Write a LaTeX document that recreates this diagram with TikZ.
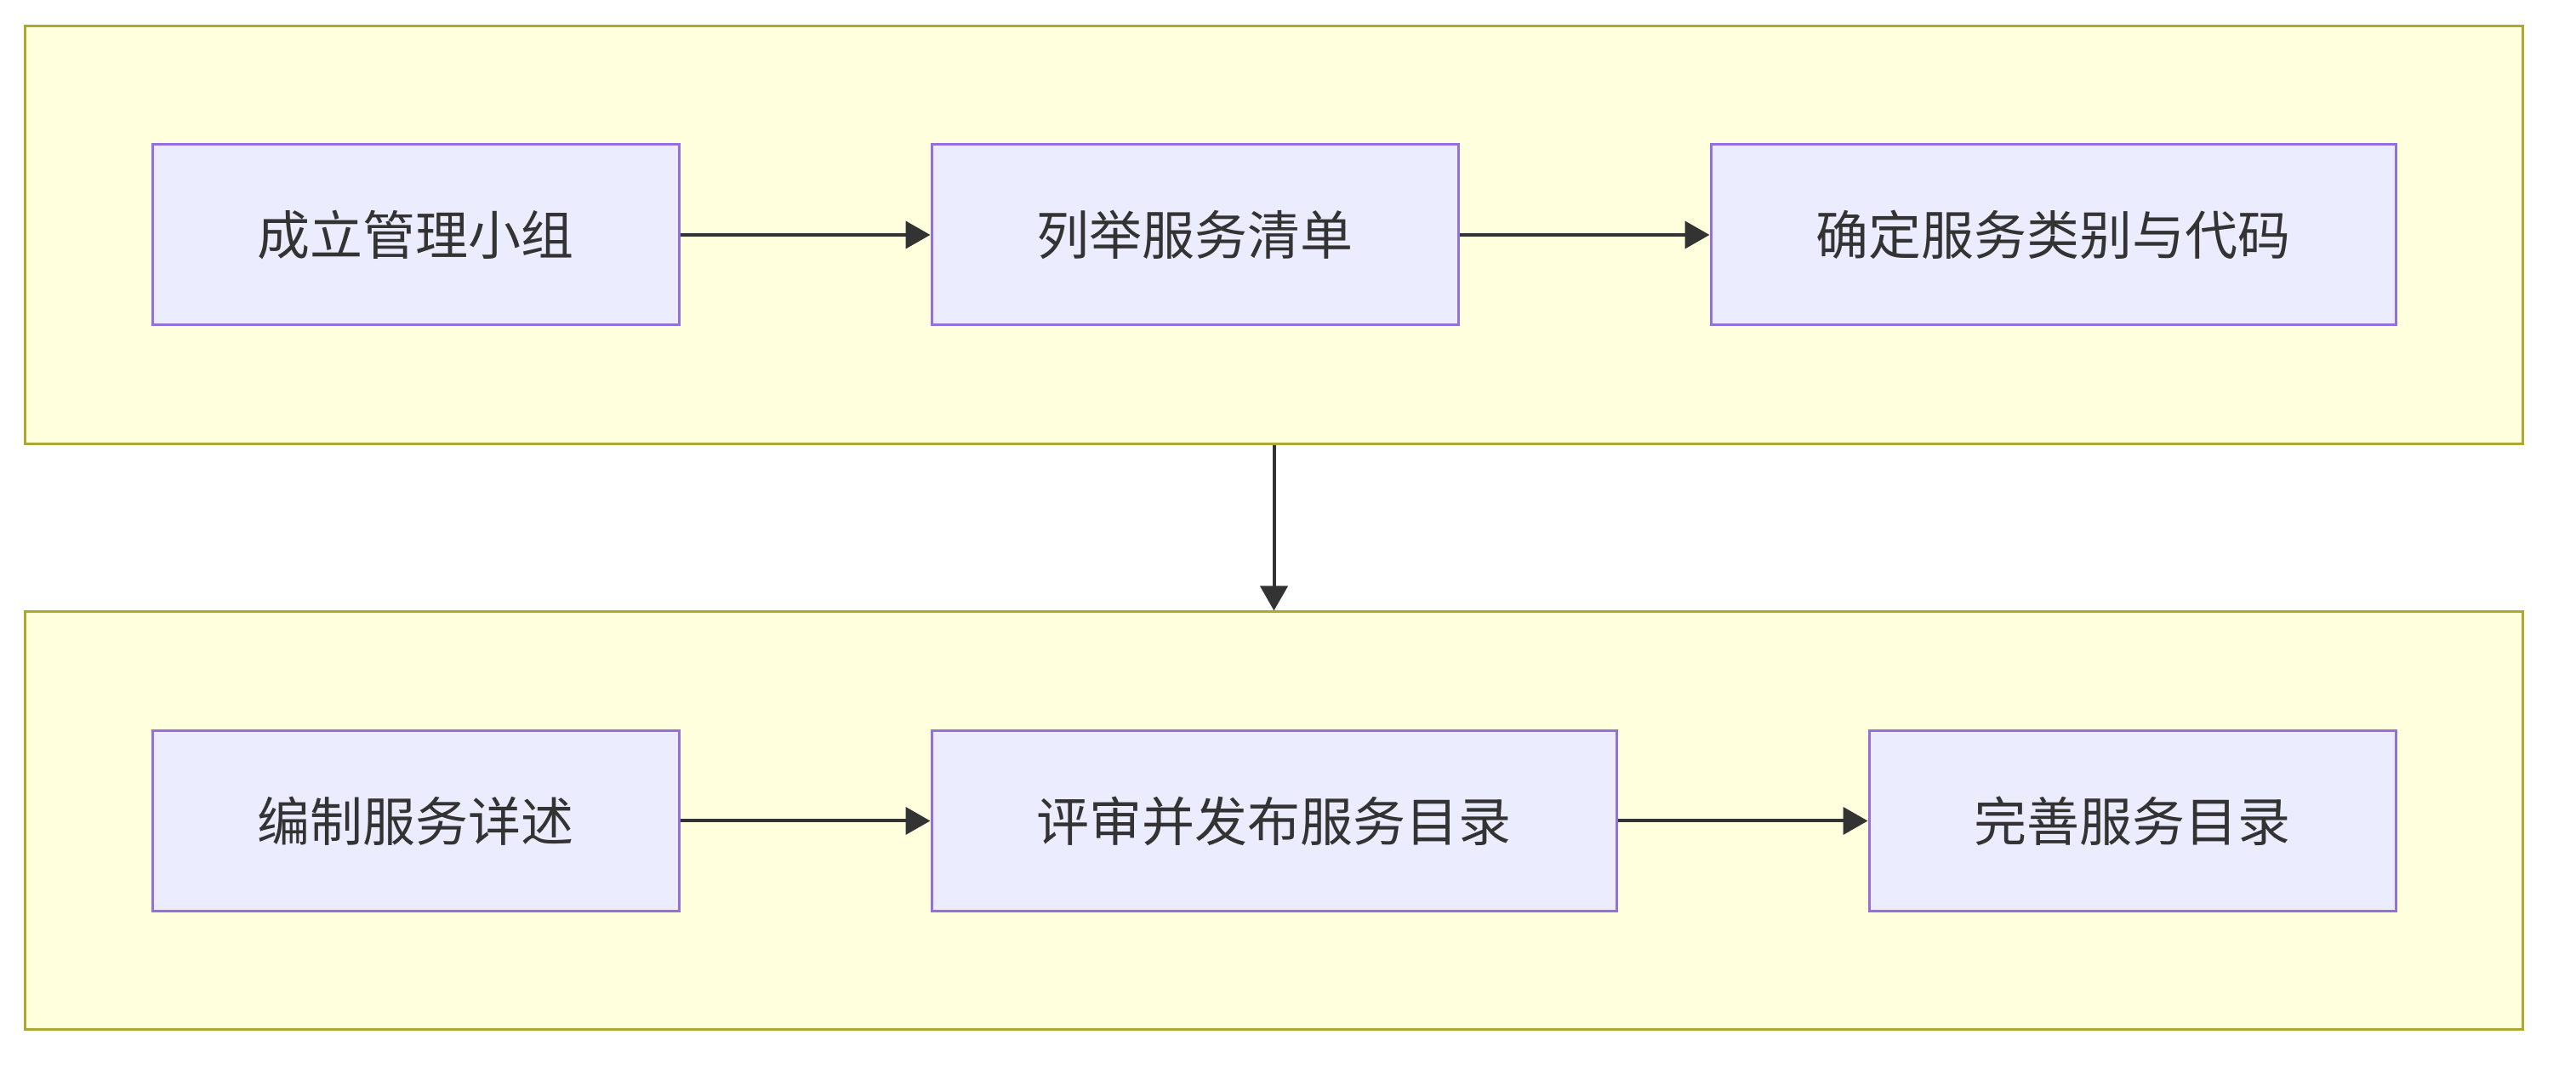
\documentclass[tikz,border=0pt]{standalone}
\usepackage{fontspec}
\setmainfont{Noto Sans CJK SC}
\usepackage{tikz}
\usetikzlibrary{arrows.meta,fit,positioning,backgrounds}
\definecolor{taskfill}{HTML}{ECECFF}
\definecolor{taskline}{HTML}{9370DB}
\definecolor{groupfill}{HTML}{FFFFDE}
\definecolor{groupline}{HTML}{AAAA33}
\definecolor{arrowline}{HTML}{333333}
\newcommand{\taskheight}{106pt}
\tikzset{
    auto, node distance = 147pt,
    task/.style = { draw = taskline, fill = taskfill, line width = 1.5pt,
        rectangle, align = center,
        inner xsep = 61.75pt, inner ysep = 0pt,
        minimum height = \taskheight,
        text = arrowline,
        font = \fontsize{31}{37}\selectfont
    },
    group/.style = { draw = groupline, fill = groupfill, line width = 1.5pt,
        rectangle, inner xsep = 74pt, inner ysep = 69pt
    },
    arrow/.style = { -{Triangle[length=14.5pt, width=16pt]},
        line width = 2pt, draw = arrowline
    }
}
\begin{document}
\begin{tikzpicture}
        \useasboundingbox (0,0) rectangle (1514pt,628pt);

        % first stage...
        \node[task] (a1) at (244.25pt,490pt) {成立管理小组};
        \node[task] (a2) [right = of a1] {列举服务清单};
        \node[task] (a3) [right = of a2] {确定服务类别与代码};
        \draw[arrow] (a1) -- (a2);
        \draw[arrow] (a2) -- (a3);

        % second stage...
        \node[task] (b1) [below = 236.75pt of a1] {编制服务详述};
        \node[task] (b2) [right = of b1] {评审并发布服务目录};
        \node[task] (b3) [right = of b2] {完善服务目录};
        \draw[arrow] (b1) -- (b2);
        \draw[arrow] (b2) -- (b3);

        % groups...
        \begin{scope}[on background layer]
            \node[group, fit = (a1) (a3)] (g1) {};
            \node[group, fit = (b1) (b3)] (g2) {};
        \end{scope}
        \draw[arrow] (g1) -- (g2);

\end{tikzpicture}
\end{document}
